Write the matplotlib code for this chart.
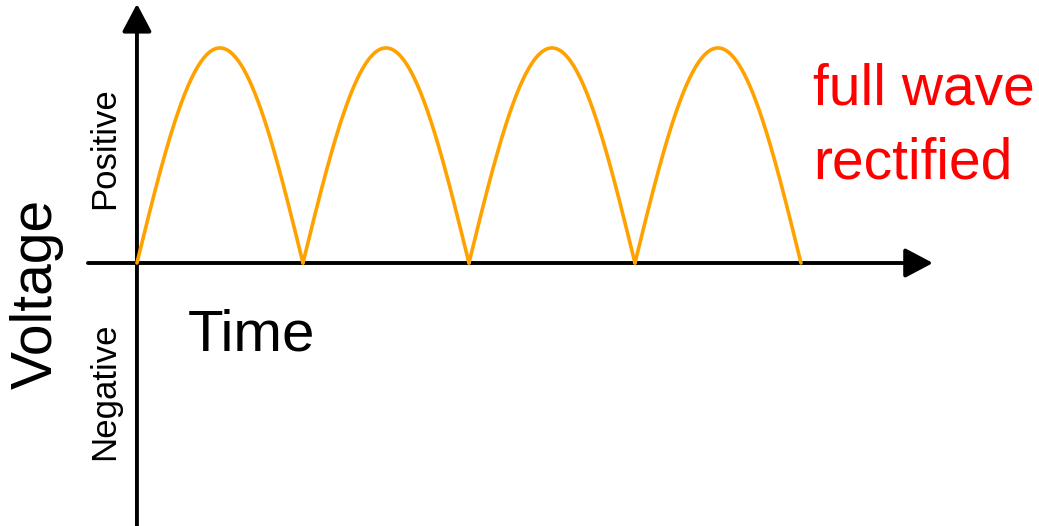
import matplotlib
matplotlib.use("Agg")
import matplotlib.pyplot as plt
import numpy as np

plt.rcParams['font.family'] = ['Liberation Sans', 'DejaVu Sans']

# half-cycle boundaries (time units) and the peak voltage of each arch
half_cycle_edges = [0, 1, 2, 3, 4]
arch_peaks = [1.0, 1.0, 1.0, 1.0]

y_label = 'Voltage'
pos_label = 'Positive'
neg_label = 'Negative'
x_label = 'Time'
title_lines = ['full wave', 'rectified']

fig = plt.figure(figsize=(10.39, 5.26), dpi=100)
ax = fig.add_axes([0, 0, 1, 1])
ax.set_xlim(-0.825, 5.434)
ax.set_ylim(-1.223, 1.223)
ax.axis('off')

# the rectified wave, one arch per half cycle
for t0, t1, peak in zip(half_cycle_edges[:-1], half_cycle_edges[1:], arch_peaks):
    t = np.linspace(t0, t1, 200)
    ax.plot(t, peak * np.sin(np.pi * (t - t0) / (t1 - t0)), color='#FFA200', lw=2.6,
            solid_capstyle='round', zorder=3)

# axes with arrow heads
arrow = dict(arrowstyle='-|>,head_length=0.85,head_width=0.45', color='black',
             lw=2.8, mutation_scale=20, shrinkA=0, shrinkB=0)
ax.annotate('', xy=(4.795, 0), xytext=(-0.295, 0), arrowprops=arrow, zorder=2)
ax.annotate('', xy=(0, 1.205), xytext=(0, -1.3), arrowprops=arrow, zorder=2)

# labels
ax.text(-0.602, -0.144, y_label, rotation=90, fontsize=41, ha='center', va='center')
ax.text(-0.193, 0.533, pos_label, rotation=90, fontsize=25, ha='center', va='center')
ax.text(-0.193, -0.598, neg_label, rotation=90, fontsize=25, ha='center', va='center')
ax.text(0.307, -0.405, x_label, fontsize=42, ha='left', va='baseline')
ax.text(4.072, 0.735, title_lines[0], fontsize=41, color='#FF0000', ha='left', va='baseline')
ax.text(4.072, 0.395, title_lines[1], fontsize=41, color='#FF0000', ha='left', va='baseline')

fig.savefig('out.png', dpi=100)
